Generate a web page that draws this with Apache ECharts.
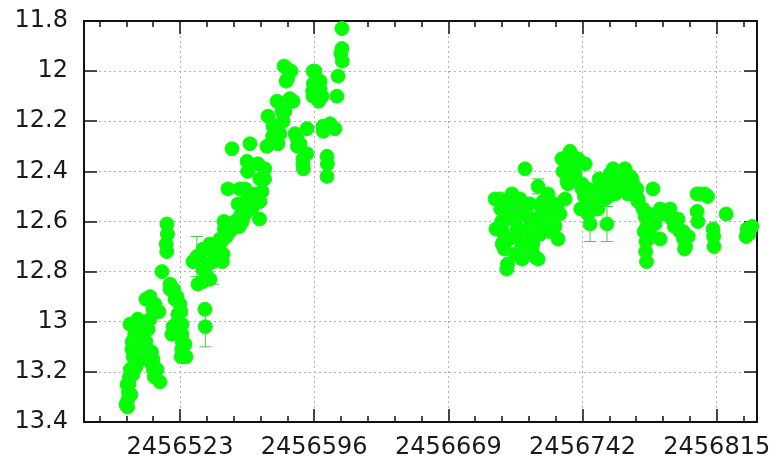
<!DOCTYPE html>
<html><head><meta charset="utf-8">
<script src="https://cdn.jsdelivr.net/npm/echarts@6/dist/echarts.min.js"></script>
<style>html,body{margin:0;padding:0;background:#fff}#c{width:779px;height:463px}</style>
</head><body><div id="c"></div>
<script>
// Julian dates of observations
const jd = [
2456494.5,2456494.7,2456495.0,2456495.2,2456495.5,2456496.0,2456498.0,2456497.5,2456498.0,2456497.0,
2456498.5,2456499.5,2456500.5,2456501.5,2456502.5,2456503.0,2456501.0,2456504.0,2456504.5,2456500.0,
2456506.7,2456508.3,2456511.5,2456507.5,2456508.3,2456508.5,2456509.0,2456515.9,2456516.2,2456515.5,
2456515.8,2456513.2,2456517.6,2456519.5,2456521.4,2456523.0,2456523.5,2456519.2,2456524.1,2456524.3,
2456524.0,2456523.6,2456532.2,2456535.5,2456537.7,2456537.5,2456535.5,2456536.5,2456536.6,2456536.8,
2456543.1,2456546.4,2456546.0,2456548.6,2456548.3,2456555.6,2456555.3,2456562.7,2456541.0,2456545.5,
2456550.0,2456553.0,2456541.0,
2456493.6,2456496.3,2456497.4,2456494.2,2456499.1,2456495.8,2456498.5,2456501.2,2456504.0,2456496.9,
2456505.6,2456506.7,2456500.1,2456502.3,2456504.5,2456509.4,2456510.5,2456512.1,2456507.8,2456517.6,
2456520.3,2456521.9,2456524.1,2456525.7,2456526.3,2456518.6,2456520.8,
2456530.1,2456533.9,2456536.6,2456539.3,2456542.0,2456544.8,2456548.0,2456551.3,2456554.6,2456558.4,
2456561.1,2456535.5,2456539.3,2456532.8,
2456546.9,2456547.2,2456556.7,2456556.9,2456566.5,2456566.3,2456549.1,2456558.4,2456567.6,2456559.5,
2456559.8,2456569.2,2456569.0,2456551.3,2456561.1,2456570.3,2456573.6,2456573.4,2456579.0,2456575.8,
2456578.5,2456582.8,2456581.2,2456581.5,2456586.7,2456586.9,2456589.9,2456590.1,2456592.1,2456595.4,
2456595.6,2456595.2,2456598.5,2456599.2,2456600.8,2456601.0,2456607.3,2456603.0,2456603.2,2456603.0,
2456608.4,2456609.0,2456611.1,2456611.3,2456610.5,2456611.1,
2456579.6,2456583.4,2456580.7,2456596.4,2456599.2,2456595.4,2456600.3,2456570.9,2456574.7,2456577.4,
2456580.1,2456584.5,2456576.3,2456585.6,2456588.3,2456592.1,2456589.9,2456604.6,2456565.4,2456566.5,
2456563.8,2456555.6,2456560.0,2456554.6,
2456700.8,2456701.2,2456697.1,2456697.5,2456698.0,2456698.5,2456699.0,2456699.5,2456710.7,2456717.8,
2456704.2,2456705.0,2456706.9,2456706.5,2456707.5,2456709.0,2456710.0,2456712.0,2456713.4,2456714.0,
2456715.0,2456716.0,2456720.5,2456722.0,2456723.2,2456724.5,2456726.0,2456728.1,2456727.0,2456719.0,
2456718.0,2456731.4,2456733.0,2456734.1,2456736.0,2456737.5,2456736.8,2456739.0,2456733.5,2456741.7,
2456743.0,2456744.4,2456746.1,2456741.0,2456745.0,2456755.3,2456747.7,2456749.0,2456750.4,2456752.0,
2456753.1,2456751.0,2456758.6,2456760.0,2456761.3,2456757.5,2456756.0,2456763.5,2456765.0,2456766.5,
2456768.0,2456769.5,2456770.5,2456771.5,2456772.2,2456780.3,2456774.9,2456776.0,2456777.0,2456778.0,
2456775.5,2456776.5,2456776.3,2456776.8,2456784.2,2456786.0,2456788.0,2456790.5,2456792.0,2456795.0,
2456797.0,2456798.0,2456799.5,2456797.5,2456804.3,2456806.0,2456808.5,2456810.0,2456804.3,2456804.8,
2456813.0,2456813.3,2456813.5,2456820.1,2456831.5,2456832.5,2456834.2,2456831.0,
2456694.4,2456702.0,2456701.5,2456694.9,2456702.0,2456698.3,2456703.6,2456708.0,2456710.7,2456706.9,
2456710.2,2456705.3,2456709.1,2456713.4,2456716.1,2456718.9,2456714.5,2456717.8,2456720.0,2456723.2,
2456727.0,2456729.7,2456724.3,2456728.7,2456732.5,2456730.8,2456735.2,2456739.5,2456743.4,2456737.9,
2456741.7,2456744.9,2456734.1,2456765.1,2456768.9,2456766.7,2456772.2,2456763.5,2456781.4,2456784.2,
2456778.7,2456789.6,2456793.9,2456796.7,2456751.5,2456756.9,2456759.7,2456754.2
];
// magnitudes
const mag = [
13.34,13.31,13.28,13.25,13.22,13.19,13.19,13.14,13.11,13.08,
13.05,13.02,13.00,13.04,13.07,13.10,13.12,13.02,13.08,13.09,
12.90,12.95,12.96,13.12,13.15,13.19,13.22,12.61,12.65,12.69,
12.72,12.80,12.85,12.87,12.90,12.93,12.96,13.02,13.05,13.08,
13.11,13.14,12.74,12.71,12.77,12.82,12.84,12.80,12.95,13.02,
12.71,12.73,12.76,12.61,12.66,12.58,12.62,12.54,12.70,12.68,
12.64,12.60,12.76,
13.33,13.29,13.21,13.25,13.18,13.01,13.05,13.09,13.13,13.11,
13.03,12.99,12.99,13.15,12.91,12.93,13.19,13.24,13.17,12.87,
12.91,12.97,13.01,13.09,13.14,13.05,13.01,
12.76,12.75,12.71,12.69,12.73,12.67,12.65,12.63,12.60,12.57,
12.55,12.79,12.83,12.85,
12.60,12.63,12.55,12.60,12.52,12.59,12.47,12.47,12.48,12.36,
12.40,12.39,12.43,12.31,12.29,12.30,12.22,12.26,12.20,12.12,
12.16,12.11,11.99,12.03,12.27,12.30,12.35,12.39,12.23,12.00,
12.05,12.08,12.12,12.07,12.22,12.24,12.23,12.34,12.37,12.42,
12.10,12.02,11.91,11.96,11.93,11.83,
11.98,12.00,12.04,12.00,12.04,12.10,12.10,12.18,12.22,12.25,
12.16,12.12,12.29,12.25,12.29,12.33,12.37,12.21,12.37,12.43,
12.49,12.47,12.51,12.53,
12.79,12.77,12.51,12.55,12.60,12.64,12.68,12.71,12.39,12.46,
12.50,12.55,12.58,12.63,12.67,12.70,12.53,12.58,12.62,12.66,
12.69,12.74,12.52,12.56,12.60,12.64,12.56,12.55,12.62,12.65,
12.60,12.40,12.36,12.35,12.36,12.38,12.42,12.44,12.44,12.47,
12.50,12.53,12.61,12.55,12.57,12.61,12.48,12.52,12.55,12.50,
12.46,12.43,12.39,12.42,12.44,12.46,12.50,12.40,12.44,12.47,
12.42,12.45,12.50,12.47,12.52,12.47,12.55,12.58,12.62,12.57,
12.64,12.68,12.72,12.76,12.55,12.57,12.56,12.59,12.62,12.64,
12.67,12.70,12.66,12.71,12.49,12.49,12.49,12.50,12.56,12.60,
12.63,12.66,12.70,12.57,12.63,12.65,12.62,12.66,
12.51,12.53,12.59,12.63,12.67,12.69,12.49,12.51,12.57,12.63,
12.69,12.73,12.75,12.53,12.59,12.65,12.71,12.75,12.55,12.49,
12.53,12.57,12.63,12.67,12.51,12.35,12.32,12.35,12.37,12.41,
12.45,12.47,12.45,12.39,12.43,12.49,12.51,12.45,12.61,12.67,
12.65,12.55,12.59,12.64,12.45,12.41,12.49,12.51
];
// points with visible error bars
const errJd   = [2456532.2,2456546.4,2456541.0,2456536.8,2456717.8,2456746.1,2456755.3];
const errMag  = [12.74,12.73,12.76,13.02,12.46,12.61,12.61];
const errSize = [0.08,0.04,0.09,0.08,0.03,0.07,0.07];

const xTickLabels = [2456523, 2456596, 2456669, 2456742, 2456815];
const xMin = 2456470.8, xMax = 2456836.9;
const yMin = 11.8, yMax = 13.4, yStep = 0.2;

const minorN = 5;
const step = (xTickLabels[1] - xTickLabels[0]) / minorN;
const minorTicks = [];
for (let v = xTickLabels[0] - step; v > xMin; v -= step) minorTicks.push(+v.toFixed(3));
xTickLabels.forEach(t => { for (let k = 1; k < minorN; k++) { const v = t + k * step; if (v < xMax) minorTicks.push(+v.toFixed(3)); } });

const FONT = 'DejaVu Sans';
const black = '#111';
function xAx(pos, vals, len, main) {
  return {
    type: 'value', position: pos, min: xMin, max: xMax,
    axisLine: { show: main, onZero: false, lineStyle: { color: black, width: 2 } },
    axisTick: { show: true, inside: true, length: len, customValues: vals, lineStyle: { color: black, width: 1.5 } },
    axisLabel: { show: main && pos === 'bottom', customValues: vals, margin: 14, fontFamily: FONT, fontSize: 24, color: '#1a1a1a', formatter: v => String(Math.round(v)) },
    splitLine: { show: main && pos === 'bottom', lineStyle: { color: '#b0b0b0', type: [2, 3], width: 1 } },
    minorTick: { show: false }
  };
}
const option = {
  backgroundColor: '#fff',
  animation: false,
  grid: { left: 84, right: 22, top: 21, bottom: 41, containLabel: false },
  xAxis: [
    xAx('bottom', xTickLabels, 13, true),
    xAx('bottom', minorTicks, 6, false),
    xAx('top', xTickLabels, 13, true),
    xAx('top', minorTicks, 6, false)
  ],
  yAxis: [
    { type: 'value', position: 'left', inverse: true, min: yMin, max: yMax, interval: yStep,
      axisLine: { show: true, onZero: false, lineStyle: { color: black, width: 2 } },
      axisTick: { show: true, inside: true, length: 13, lineStyle: { color: black, width: 1.5 } },
      axisLabel: { margin: 16, fontFamily: FONT, fontSize: 24, color: '#1a1a1a' },
      splitLine: { show: true, lineStyle: { color: '#b0b0b0', type: [2, 3], width: 1 } } },
    { type: 'value', position: 'right', inverse: true, min: yMin, max: yMax, interval: yStep,
      axisLine: { show: true, onZero: false, lineStyle: { color: black, width: 2 } },
      axisTick: { show: true, inside: true, length: 13, lineStyle: { color: black, width: 1.5 } },
      axisLabel: { show: false }, splitLine: { show: false } }
  ],
  series: [
    { type: 'custom', xAxisIndex: 0, yAxisIndex: 0, z: 1,
      data: errJd.map((x, i) => [x, errMag[i] - errSize[i], errMag[i] + errSize[i]]),
      encode: { x: 0, y: [1, 2] },
      renderItem: function (params, api) {
        const x = api.value(0);
        const a = api.coord([x, api.value(1)]);
        const b = api.coord([x, api.value(2)]);
        const w = 6, st = { stroke: '#44cc44', lineWidth: 1 };
        return { type: 'group', children: [
          { type: 'line', shape: { x1: a[0], y1: a[1], x2: b[0], y2: b[1] }, style: st },
          { type: 'line', shape: { x1: a[0] - w, y1: a[1], x2: a[0] + w, y2: a[1] }, style: st },
          { type: 'line', shape: { x1: b[0] - w, y1: b[1], x2: b[0] + w, y2: b[1] }, style: st }
        ] };
      } },
    { type: 'scatter', xAxisIndex: 0, yAxisIndex: 0, z: 2,
      data: jd.map((x, i) => [x, mag[i]]),
      symbol: 'circle', symbolSize: 14,
      itemStyle: { color: '#00ff00', borderColor: '#22f022', borderWidth: 1, opacity: 1 } }
  ]
};
const chart = echarts.init(document.getElementById('c'), null, { renderer: 'canvas' });
chart.setOption(option);
</script></body></html>
